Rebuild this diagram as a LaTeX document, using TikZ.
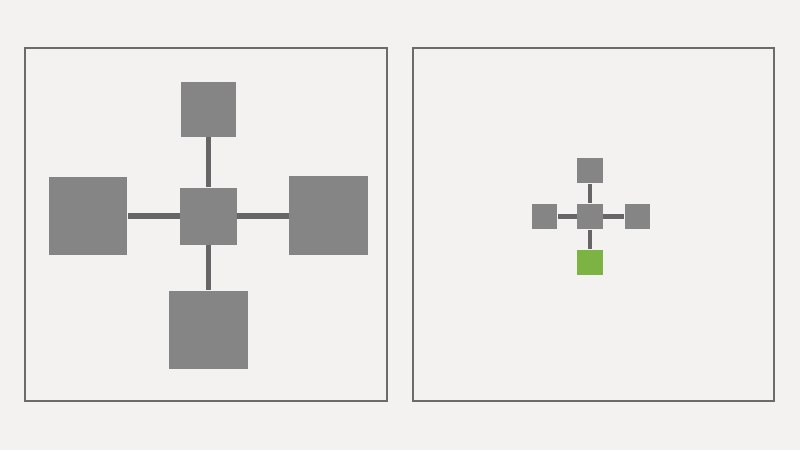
\documentclass[tikz,border=0pt]{standalone}
\usepackage{tikz}

\definecolor{paper}{HTML}{F3F2F0}
\definecolor{boxgray}{HTML}{858585}
\definecolor{linkgray}{HTML}{666666}
\definecolor{framegray}{HTML}{6B6B6B}
\definecolor{leafgreen}{HTML}{7CB342}

\begin{document}
\begin{tikzpicture}[x=0.02cm,y=-0.02cm,
	blk/.style={rectangle,fill=boxgray,inner sep=0pt,minimum width=#1,minimum height=#1},
	link/.style={draw=linkgray,line width=#1}]
	\fill[paper] (0,0) rectangle (800,450);
	\useasboundingbox (0,0) rectangle (800,450);

	% left panel
	\draw[framegray,line width=1.1pt] (25,48) rectangle (387,401);
	\node[blk=1.14cm] (hubL) at (208.5,216) {};
	\node[blk=1.1cm] (topL) at (208.5,109.5) {};
	\node[blk=1.57cm] (westL) at (88,216) {};
	\node[blk=1.57cm] (eastL) at (328.5,215.5) {};
	\node[blk=1.57cm] (southL) at (208.5,330) {};
	\draw[link=3.4pt] (hubL) -- (topL);
	\draw[link=3.4pt] (hubL) -- (westL);
	\draw[link=3.4pt] (hubL.east) -- (hubL.east -| eastL.west);
	\draw[link=3.4pt] (hubL) -- (southL);

	% right panel
	\draw[framegray,line width=1.1pt] (413,48) rectangle (774,401);
	\node[blk=0.51cm] (hubR) at (590,216.5) {};
	\node[blk=0.51cm] (topR) at (590,170.5) {};
	\node[blk=0.51cm] (westR) at (544.5,216.5) {};
	\node[blk=0.51cm] (eastR) at (637.5,216.5) {};
	\node[blk=0.51cm,fill=leafgreen] (southR) at (590,262.5) {};
	\draw[link=2.3pt] (hubR) -- (topR);
	\draw[link=2.3pt] (hubR) -- (westR);
	\draw[link=2.3pt] (hubR) -- (eastR);
	\draw[link=2.3pt] (hubR) -- (southR);
\end{tikzpicture}
\end{document}
